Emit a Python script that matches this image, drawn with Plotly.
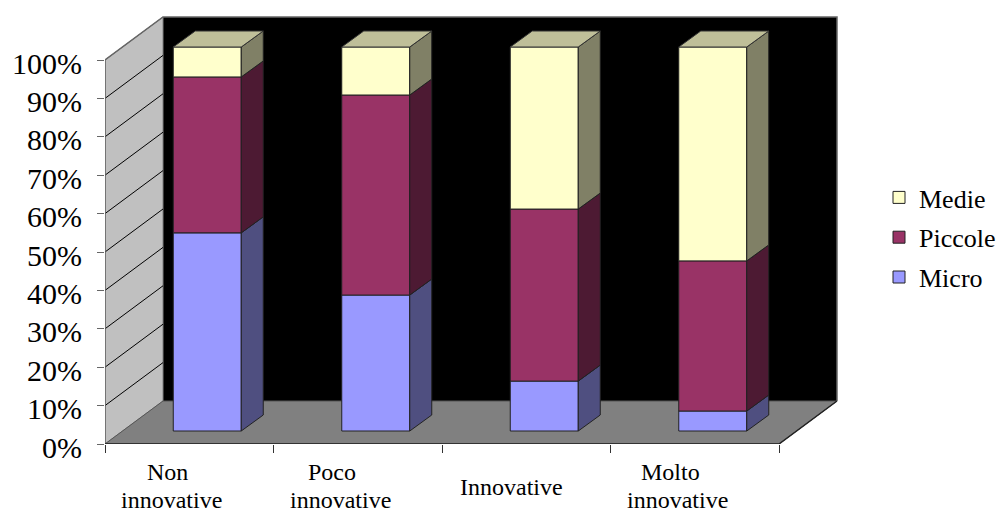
import plotly.graph_objects as go

# Share of firms by size class, per innovation level (percent)
categories = ["Non innovative", "Poco innovative", "Innovative", "Molto innovative"]
label_lines = [["Non", "innovative"], ["Poco", "innovative"], ["Innovative"], ["Molto", "innovative"]]
label_positions = [[0.37, 0.395], [1.345, 1.395], [2.41], [3.355, 3.40]]
micro = [51.6, 35.4, 13.0, 5.2]
piccole = [40.6, 52.1, 44.8, 39.1]
medie = [7.8, 12.5, 42.2, 55.7]
y_ticks = list(range(0, 101, 10))
y_tick_labels = [f"{v}%" for v in y_ticks]

SERIF = "Liberation Serif, Times New Roman, serif"
W, H = 997, 513

# Axis scale: pixels per unit, used to express the oblique projection in data units
PX_X, PX_Y = 168.5, 3.84
WALL_DX, WALL_DY = 58 / PX_X, 43 / PX_Y      # depth of the chart box
BAR_DX, BAR_DY = 22 / PX_X, 16 / PX_Y        # depth of a bar
SHIFT_X, SHIFT_Y = 18 / PX_X, 13 / PX_Y      # bar set-back from the front edge
BAR_W = 68 / PX_X
N = len(categories)

series = [
    ("Micro", micro, "#9999FF", "#4F4F80", None, 3),
    ("Piccole", piccole, "#993366", "#4D1A33", None, 2),
    ("Medie", medie, "#FFFFCC", "#808066", "#BFBF99", 1),
]

fig = go.Figure()

# Front faces, with side and top faces projected from the same values
cumulative = [0.0] * N
for name, values, color, side, top, rank in series:
    bases = [SHIFT_Y + c for c in cumulative]
    centers = [i + 0.5 + SHIFT_X for i in range(N)]
    fig.add_bar(
        x=centers, y=values, base=bases, width=BAR_W, name=name,
        marker=dict(color=color, line=dict(color="#222222", width=1)),
        legendgroup=name, legendrank=rank, hovertext=categories,
    )
    side_x, side_y, top_x, top_y = [], [], [], []
    for c, b, v in zip(centers, bases, values):
        r = c + BAR_W / 2
        l = c - BAR_W / 2
        side_x += [r, r + BAR_DX, r + BAR_DX, r, r, None]
        side_y += [b, b + BAR_DY, b + v + BAR_DY, b + v, b, None]
        top_x += [l, l + BAR_DX, r + BAR_DX, r, l, None]
        top_y += [b + v, b + v + BAR_DY, b + v + BAR_DY, b + v, b + v, None]
    fig.add_scatter(x=side_x, y=side_y, mode="lines", fill="toself", fillcolor=side,
                    line=dict(color="#222222", width=1), showlegend=False, hoverinfo="skip")
    if top:
        fig.add_scatter(x=top_x, y=top_y, mode="lines", fill="toself", fillcolor=top,
                        line=dict(color="#333333", width=1), showlegend=False, hoverinfo="skip")
    cumulative = [c + v for c, v in zip(cumulative, values)]

# Gridlines running across the left wall
grid_x, grid_y = [], []
for v in y_ticks[1:-1]:
    grid_x += [0, WALL_DX, None]
    grid_y += [v, v + WALL_DY, None]
fig.add_scatter(x=grid_x, y=grid_y, mode="lines", line=dict(color="#000000", width=1),
                showlegend=False, hoverinfo="skip", cliponaxis=False)

# Outline of the box: grey upper edges, black floor front edges
fig.add_scatter(x=[0, 0, WALL_DX, WALL_DX + N, WALL_DX + N], y=[0, 100, 100 + WALL_DY, 100 + WALL_DY, WALL_DY],
                mode="lines", line=dict(color="#666666", width=1.5),
                showlegend=False, hoverinfo="skip", cliponaxis=False)
fig.add_scatter(x=[0, N, WALL_DX + N], y=[0, 0, WALL_DY], mode="lines",
                line=dict(color="#222222", width=1.5),
                showlegend=False, hoverinfo="skip", cliponaxis=False)

def polygon(points):
    return "M " + " L ".join(f"{x},{y}" for x, y in points) + " Z"

wall_shapes = [
    dict(path=polygon([(WALL_DX, WALL_DY), (WALL_DX + N, WALL_DY), (WALL_DX + N, 100 + WALL_DY), (WALL_DX, 100 + WALL_DY)]),
         fillcolor="#000000", line_width=0),
    dict(path=polygon([(0, 0), (0, 100), (WALL_DX, 100 + WALL_DY), (WALL_DX, WALL_DY)]),
         fillcolor="#C0C0C0", line=dict(color="#808080", width=1)),
    dict(path=polygon([(0, 0), (N, 0), (N + WALL_DX, WALL_DY), (WALL_DX, WALL_DY)]),
         fillcolor="#808080", line=dict(color="#555555", width=1)),
]
for s in wall_shapes:
    fig.add_shape(type="path", xref="x", yref="y", layer="below", **s)

# Category labels sit between the tick marks, one annotation per text line
line_drop = {2: [28, 56], 1: [43]}
for lines, positions in zip(label_lines, label_positions):
    for line, pos, drop in zip(lines, positions, line_drop[len(lines)]):
        fig.add_annotation(x=pos, xref="x", y=0, yref="y", yanchor="middle",
                           text=line, showarrow=False, yshift=-drop,
                           font=dict(family=SERIF, size=24, color="#000000"))

# Margins stay at zero and the axis domains place the plot
LEFT, TOP, BOTTOM = 105, 13, 444
plot_w = 4 * PX_X + 58 + 3
fig.update_layout(
    width=W, height=H, autosize=False,
    margin=dict(l=0, r=0, t=0, b=0, autoexpand=False),
    paper_bgcolor="#FFFFFF", plot_bgcolor="rgba(0,0,0,0)",
    barmode="overlay",
    xaxis=dict(domain=[LEFT / W, (LEFT + plot_w) / W],
               range=[0, N + 61 / PX_X], tickmode="array", tickvals=list(range(N + 1)), ticktext=[""] * (N + 1),
               ticks="outside", ticklen=8, tickcolor="#333333", tickwidth=1,
               showgrid=False, zeroline=False, showline=False),
    yaxis=dict(domain=[(H - BOTTOM) / H, (H - TOP) / H],
               range=[0, (BOTTOM - TOP) / PX_Y], tickmode="array", tickvals=y_ticks, ticktext=y_tick_labels,
               ticks="outside", ticklen=7, tickcolor="#666666", tickwidth=1, ticklabelstandoff=9,
               ticklabelshift=3,
               tickfont=dict(family=SERIF, size=30, color="#000000"),
               showgrid=False, zeroline=False, showline=False),
    legend=dict(x=879 / W, y=(H - 174) / H, xanchor="left", yanchor="top",
                traceorder="grouped", tracegroupgap=3, bgcolor="rgba(0,0,0,0)",
                font=dict(family=SERIF, size=26, color="#000000")),
    showlegend=True,
)

fig.write_html("out.html")
